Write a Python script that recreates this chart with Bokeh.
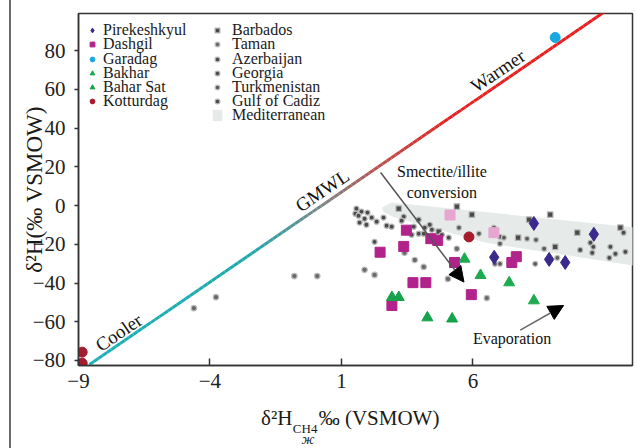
import numpy as np
from bokeh.plotting import figure
from bokeh.models import (Range1d, FixedTicker, Legend, LegendItem, Label, Arrow, NormalHead,
                          LinearAxis, Title)
from bokeh.embed import file_html
from bokeh.resources import INLINE

# ---------------- data ----------------
x_ticks = [-9, -4, 1, 6]
y_ticks = [-80, -60, -40, -20, 0, 20, 40, 60, 80]

pirekeshkyul_x = [8.32, 10.60, 6.81, 8.90, 9.51]
pirekeshkyul_y = [-9.2, -14.8, -26.7, -27.8, -29.4]

dashgil_x = [3.47, 3.37, 2.47, 4.40, 4.66, 5.30, 3.72, 4.21, 5.94, 2.92, 7.48, 7.65]
dashgil_y = [-12.7, -21.1, -24.1, -17.1, -18.0, -29.4, -39.8, -39.8, -46.0, -51.6, -29.4, -26.4]
dashgil_pale_x = [5.13, 6.80]
dashgil_pale_y = [-4.9, -14.0]

garadag_x = [9.13]
garadag_y = [86.8]

bakhar_x = [5.68, 6.29, 7.38, 8.32]
bakhar_y = [-27.6, -36.0, -39.8, -49.1]

bahar_sat_x = [2.92, 3.18, 4.27, 5.21]
bahar_sat_y = [-47.4, -47.4, -57.9, -58.5]

kotturdag_x = [5.85, -8.86, -8.86]
kotturdag_y = [-16.2, -75.7, -81.4]

barbados_x = [3.18, 5.39, 5.96, 8.94, 8.14, 7.72, 9.13, 9.97, 11.61, 4.70]
barbados_y = [-1.6, -0.5, -4.7, -4.7, -7.3, -16.6, -21.3, -14.0, -11.4, -13.5]

taman_x = [-4.61, -3.77, -0.79, 0.08, 1.88, 2.26, 3.40, 3.79, 4.13, 5.05, 5.39, 6.53]
taman_y = [-53.0, -47.3, -36.4, -36.4, -33.2, -35.8, -24.4, -28.1, -31.7, -37.9, -22.3, -47.8]

azerbaijan_x = [3.37, 3.29, 3.75, 3.94, 4.17, 4.36, 4.44, 3.67, 3.94, 4.13, 4.82, 5.08]
azerbaijan_y = [-5.7, -7.8, -10.9, -7.3, -11.4, -9.9, -12.5, -15.1, -14.5, -14.5, -15.1, -16.6]

georgia_x = [1.57, 1.76, 1.99, 1.53, 1.65, 1.88, 2.15, 2.34, 2.60, 1.69, 1.95, 2.72, 2.91, 2.26]
georgia_y = [-1.6, -3.1, -3.6, -4.2, -5.2, -6.8, -6.2, -8.3, -6.2, -8.8, -9.9, -10.4, -10.9, -18.7]

turkmenistan_x = [6.80, 7.03, 7.18, 8.06, 8.40, 7.03, 8.71, 9.21, 8.37, 6.84, 7.03, 5.47, 6.23]
turkmenistan_y = [-11.4, -16.1, -16.6, -17.1, -17.7, -19.7, -22.3, -27.0, -30.1, -30.1, -30.1, -11.4, -14.5]

gulf_of_cadiz_x = [10.08, 10.47, 10.58, 10.54, 11.23, 11.42, 11.19, 11.73, 11.80]
gulf_of_cadiz_y = [-22.9, -19.2, -21.3, -24.4, -21.3, -24.9, -27.0, -14.0, -23.9]

mediterranean_x = [2.55, 2.9, 12.1, 12.1, 6.5, 3.0, 2.6]
mediterranean_y = [-1.0, 1.6, -11.2, -31.0, -19.2, -6.0, -3.5]

gmwl_x = [-8.58, 11.2]
gmwl_slope = 9.3
gmwl_intercept = -2.3

smectite_arrow = [2.49, 17.1, 5.66, -39.5]
evaporation_arrow = [7.80, -64.3, 9.45, -51.6]

# ---------------- figure ----------------
SERIF = "Liberation Serif"
NB = "\u00a0"
XMIN, XMAX, YMIN, YMAX = -9, 12.07, -82.6, 99.2

p = figure(width=637, height=448, x_range=Range1d(XMIN, XMAX), y_range=Range1d(YMIN, YMAX),
           output_backend="svg", toolbar_location=None,
           min_border_left=78, min_border_right=5, min_border_top=13, min_border_bottom=83)
p.grid.visible = False
p.outline_line_color = "#333333"
p.outline_line_width = 1.5
p.background_fill_color = "white"
p.border_fill_color = None
p.styles = {"background": "linear-gradient(to right, #ffffff 0px, #ffffff 9px, #6a6a6a 9px, "
                          "#6a6a6a 11px, #ffffff 11px, #ffffff 100%)"}

for ax in (p.xaxis[0], p.yaxis[0]):
    ax.axis_line_color = "#333333"
    ax.axis_line_width = 1.5
    ax.major_tick_line_color = "#333333"
    ax.major_tick_line_width = 1.5
    ax.minor_tick_line_color = None
    ax.major_label_text_font = SERIF
    ax.major_label_text_font_size = "21px"
    ax.major_label_text_color = "#222222"
    ax.axis_label_text_font = SERIF
    ax.axis_label_text_font_style = "normal"
    ax.axis_label_text_color = "#1a1a1a"

p.xaxis.ticker = FixedTicker(ticks=x_ticks)
p.xaxis.major_label_overrides = {t: str(t).replace("-", "\u2212") for t in x_ticks}
p.xaxis.major_tick_in = 7
p.xaxis.major_tick_out = 0
p.xaxis.major_label_standoff = 8
p.xaxis.axis_label = "\u03b4\u00b2H" + NB * 5 + "\u2030 (VSMOW)" + NB * 2
p.xaxis.axis_label_text_font_size = "21px"
p.xaxis.axis_label_standoff = 15

p.yaxis.ticker = FixedTicker(ticks=y_ticks)
p.yaxis.major_label_overrides = {t: str(t).replace("-", "\u2212") for t in y_ticks}
p.yaxis.major_tick_in = 0
p.yaxis.major_tick_out = 4
p.yaxis.major_label_standoff = 9
p.yaxis.axis_label = "\u03b4\u00b2H(\u2030 VSMOW)"
p.yaxis.axis_label_text_font_size = "23px"
p.yaxis.axis_label_standoff = -17

# subscript of the x title, drawn as the title of a tick-less second axis
sub_axis = LinearAxis(ticker=FixedTicker(ticks=[]), axis_line_color=None, major_tick_line_color=None,
                      minor_tick_line_color=None, axis_label="CH4" + NB * 31,
                      axis_label_text_font=SERIF, axis_label_text_font_size="13px",
                      axis_label_text_font_style="normal", axis_label_text_color="#1a1a1a",
                      axis_label_standoff=-12)
p.add_layout(sub_axis, "below")
p.add_layout(Title(text="\u0436", align="left", offset=223, text_font=SERIF, text_font_size="14px",
                   text_font_style="italic", text_color="#1a1a1a", standoff=-17), "below")

# Mediterranean band
r_med = p.patch(mediterranean_x, mediterranean_y, fill_color="#e6ebe9", line_color=None)

# GMWL gradient line
stops_x = [-8.6, -2.5, 0.3, 2.5, 5.0, 12.0]
stops_c = [(31, 178, 184), (30, 170, 172), (125, 135, 135), (190, 80, 80), (230, 35, 35), (235, 30, 30)]
xs = np.linspace(gmwl_x[0], gmwl_x[1], 120)
x0s, x1s = xs[:-1], xs[1:]
cols = []
for xm in (x0s + x1s) / 2:
    rgb = [int(np.interp(xm, stops_x, [c[k] for c in stops_c])) for k in range(3)]
    cols.append("#%02x%02x%02x" % tuple(rgb))
p.segment(x0=x0s, y0=gmwl_slope * x0s + gmwl_intercept, x1=x1s, y1=gmwl_slope * x1s + gmwl_intercept,
          line_color=cols, line_width=3)

# background (gray) data sets
gray = dict(fill_color="#4a4a4a", line_color="#b5b5b5", line_width=1.2)
r_barb = p.scatter(barbados_x, barbados_y, marker="square", size=5.5, **gray)
r_tam = p.scatter(taman_x, taman_y, marker="circle", size=5.5, fill_color="#6a6a6a", line_color="#bdbdbd", line_width=1.2)
r_aze = p.scatter(azerbaijan_x, azerbaijan_y, marker="circle", size=5, **gray)
r_geo = p.scatter(georgia_x, georgia_y, marker="circle", size=5, **gray)
r_tur = p.scatter(turkmenistan_x, turkmenistan_y, marker="circle", size=5, fill_color="#5a5a5a", line_color="#c0c0c0", line_width=1.2)
r_cad = p.scatter(gulf_of_cadiz_x, gulf_of_cadiz_y, marker="circle", size=5, **gray)

# mud volcano data
r_pir = p.scatter(pirekeshkyul_x, pirekeshkyul_y, marker="diamond", size=14, fill_color="#3b2a8c", line_color="#3b2a8c")
p.scatter(dashgil_pale_x, dashgil_pale_y, marker="square", size=10, fill_color="#e7a6d2", line_color="#e7a6d2")
r_das = p.scatter(dashgil_x, dashgil_y, marker="square", size=10, fill_color="#b1238b", line_color="#b1238b")
r_gar = p.scatter(garadag_x, garadag_y, marker="circle", size=10, fill_color="#19a8df", line_color="#19a8df")
r_bak = p.scatter(bakhar_x, bakhar_y, marker="triangle", size=11, fill_color="#1eab4f", line_color="#1eab4f")
r_bah = p.scatter(bahar_sat_x, bahar_sat_y, marker="triangle", size=11, fill_color="#15a34b", line_color="#15a34b")
r_kot = p.scatter(kotturdag_x, kotturdag_y, marker="circle", size=10, fill_color="#a51d2d", line_color="#a51d2d")

# arrows
p.add_layout(Arrow(end=NormalHead(size=15, fill_color="black", line_color="black"),
                   x_start=smectite_arrow[0], y_start=smectite_arrow[1],
                   x_end=smectite_arrow[2], y_end=smectite_arrow[3],
                   line_color="#555555", line_width=1.5))
p.add_layout(Arrow(end=NormalHead(size=15, fill_color="black", line_color="black"),
                   x_start=evaporation_arrow[0], y_start=evaporation_arrow[1],
                   x_end=evaporation_arrow[2], y_end=evaporation_arrow[3],
                   line_color="#666666", line_width=1.5))

def txt(x, y, s, size="16px", angle=0):
    p.add_layout(Label(x=x, y=y, text=s, text_font=SERIF, text_font_size=size, text_color="#111111",
                       angle=angle, angle_units="deg", text_align="center", text_baseline="middle"))

txt(4.82, 17.7, "Smectite/illite")
txt(4.82, 6.5, "conversion")
txt(7.49, -68.6, "Evaporation")
txt(-7.47, -65.5, "Cooler", size="19px", angle=34)
txt(0.27, 7.8, "GMWL", size="19px", angle=34)
txt(6.95, 69.6, "Warmer", size="19px", angle=34)

# legends: one single-row legend per entry so rows can sit closer than the text box height
leg_common = dict(background_fill_alpha=0, border_line_alpha=0, padding=0, spacing=0, margin=0,
                  glyph_width=12, glyph_height=14, label_height=14,
                  label_text_font=SERIF, label_text_font_size="16px", label_text_color="#1a1a1a",
                  label_text_baseline="middle")
legend_col1 = [("Pirekeshkyul", r_pir), ("Dashgil", r_das), ("Garadag", r_gar),
               ("Bakhar", r_bak), ("Bahar Sat", r_bah), ("Kotturdag", r_kot)]
legend_col2 = [("Barbados", r_barb), ("Taman", r_tam), ("Azerbaijan", r_aze), ("Georgia", r_geo),
               ("Turkmenistan", r_tur), ("Gulf of Cadiz", r_cad), ("Mediterranean", r_med)]
ROW0, ROW_STEP, HALF = 30.0, 14.2, 9.2
for col_x, standoff, entries in ((8, 5, legend_col1), (133, 9, legend_col2)):
    for i, (lab, rend) in enumerate(entries):
        centre = ROW0 + ROW_STEP * i
        p.add_layout(Legend(items=[LegendItem(label=lab, renderers=[rend])],
                            location=(col_x, 365 - centre - HALF),
                            label_standoff=standoff, **leg_common))

open("out.html", "w").write(file_html(p, INLINE))
